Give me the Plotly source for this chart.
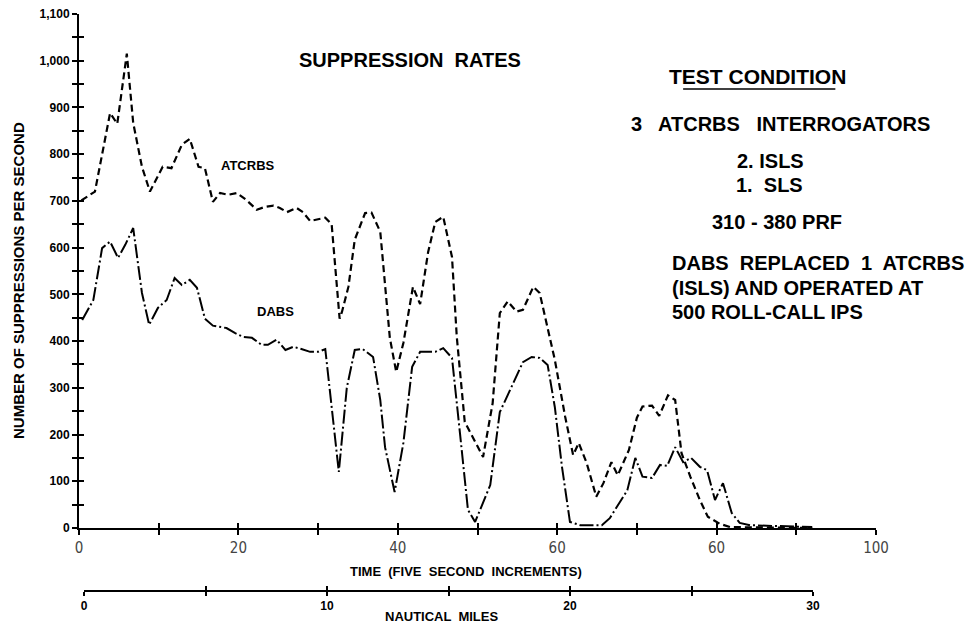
import plotly.graph_objects as go

# ---------------- data ----------------
atcrbs_t = [0.3, 2, 3.9, 4.8, 6, 6.8, 7.9, 8.9, 10.5, 11.6, 12.9, 13.9, 15, 15.8, 16.8, 17.7,
            18.7, 19.8, 21, 22.3, 23.3, 24.4, 25.2, 26.1, 27.3, 28.1, 29, 30.9, 31.7, 32.7, 33,
            33.8, 34.6, 35.9, 36.7, 37.8, 39, 39.8, 40.7, 41.9, 42.8, 43.8, 44.7, 45.7, 46.8,
            47.4, 48.4, 50.7, 51.9, 52.8, 53.8, 54.9, 55.7, 57, 57.8, 59.7, 61, 62, 62.7, 63.7,
            64.9, 65.8, 66.8, 67.6, 69, 70, 70.7, 71.9, 72.8, 73.9, 74.8, 75.6, 76.7, 77.9,
            78.9, 80.4, 81.7, 86, 92]
atcrbs_v = [701, 720, 888, 865, 1015, 867, 773, 720, 773, 770, 820, 833, 773, 770, 698, 717,
            713, 717, 702, 681, 687, 690, 685, 676, 685, 676, 657, 664, 650, 448, 463,
            516, 617, 674, 675, 634, 407, 334, 396, 516, 479, 590, 655, 666, 580,
            409, 227, 152, 267, 460, 485, 463, 467, 516, 503, 360, 238, 156, 182, 139,
            67, 96, 141, 113, 167, 236, 260, 262, 240, 284, 274, 160, 110, 60,
            24, 9, 2, 1, 0]

dabs_t = [0.4, 1.8, 2.9, 3.9, 4.9, 5.8, 6.8, 7.9, 8.8, 9.9, 11, 12, 12.9, 13.9, 14.8, 15.8,
          16.8, 18.5, 19.6, 20.6, 21.7, 22.9, 23.7, 24.8, 25.9, 26.9, 27.9, 29, 30, 30.9, 32.6,
          33.6, 34.6, 35.6, 36.9, 37.8, 38.4, 39.6, 40.7, 41.8, 42.8, 44.7, 45.7, 46.8, 47.8,
          48.8, 49.7, 50.7, 51.6, 52.8, 53.8, 54.9, 55.7, 56.8, 57.8, 58.8, 59.7, 60.6, 61.6,
          62.9, 65.6, 66.6, 67.6, 68.8, 69.8, 70.7, 71.9, 72.9, 73.8, 74.8, 75.8, 76.8, 77.9,
          78.8, 79.8, 80.8, 81.9, 82.9, 84.2, 88, 92]
dabs_v = [445, 488, 599, 613, 578, 606, 642, 503, 435, 471, 488, 535, 520, 531, 514, 448,
          433, 428, 417, 409, 407, 392, 392, 403, 381, 388, 383, 377, 377, 383, 120,
          300, 381, 383, 366, 274, 173, 77, 182, 345, 377, 377, 385, 364, 203,
          39, 13, 54, 92, 248, 285, 328, 355, 366, 364, 349, 259, 131, 13,
          6, 6, 21, 49, 81, 150, 110, 107, 135, 133, 173, 141, 150, 131,
          124, 60, 96, 32, 11, 6, 4, 2]

time_tickvals = [0, 10, 20, 30, 40, 50, 60, 70, 80, 90, 100]
time_ticktext = ["0", "", "20", "", "40", "", "60", "", "60", "", "100"]
y_tickvals = list(range(0, 1101, 50))
y_ticktext = [("{:,}".format(v) if v % 100 == 0 else "") for v in y_tickvals]
nm_tickvals = [0, 5, 10, 15, 20, 25, 30]
nm_ticktext = ["0", "", "10", "", "20", "", "30"]

FONT = "Liberation Sans, Arial, Helvetica, sans-serif"
THIN = "Liberation Sans Narrow, DejaVu Sans Condensed, DejaVu Sans Mono, monospace"

fig = go.Figure()
fig.add_trace(go.Scatter(x=atcrbs_t, y=atcrbs_v, mode="lines", name="ATCRBS",
                         line=dict(color="black", width=2.2, dash="7px,4px"),
                         showlegend=False, hoverinfo="skip"))
fig.add_trace(go.Scatter(x=dabs_t, y=dabs_v, mode="lines", name="DABS",
                         line=dict(color="black", width=2, dash="14px,3px,2px,3px"),
                         showlegend=False, hoverinfo="skip"))
# dummy traces to register the helper axes
fig.add_trace(go.Scatter(x=[None], y=[None], xaxis="x3", yaxis="y", showlegend=False, hoverinfo="skip"))
fig.add_trace(go.Scatter(x=[None], y=[None], xaxis="x", yaxis="y3", showlegend=False, hoverinfo="skip"))
fig.add_trace(go.Scatter(x=[None], y=[None], xaxis="x2", yaxis="y2", showlegend=False, hoverinfo="skip"))
fig.add_trace(go.Scatter(x=[None], y=[None], xaxis="x4", yaxis="y2", showlegend=False, hoverinfo="skip"))

main_dom = [0.1433, 1.0]
nm_dom = [0.00627, 0.921]

# the page body adds an 8px offset, so the figure is 8px smaller and margins shifted
fig.update_layout(
    template="none",
    width=970, height=616,
    margin=dict(l=71, r=102, t=6, b=10, autoexpand=False),
    paper_bgcolor="white", plot_bgcolor="white",
    font=dict(family=FONT, color="black"),
    xaxis=dict(domain=[0, 1], range=[0, 100], anchor="y", showgrid=False, zeroline=False,
               automargin=False, ticklabeloverflow="allow",
               showline=True, linecolor="black", linewidth=2,
               tickmode="array", tickvals=time_tickvals, ticktext=time_ticktext,
               ticks="outside", ticklen=5, tickwidth=2, tickcolor="black",
               tickfont=dict(family=THIN, size=15, color="#444")),
    xaxis3=dict(overlaying="x", anchor="y", range=[0, 100], showgrid=False, zeroline=False,
                automargin=False,
                showline=False, tickmode="array", tickvals=time_tickvals,
                ticks="inside", ticklen=5, tickwidth=2, tickcolor="black",
                showticklabels=False),
    yaxis=dict(domain=main_dom, range=[0, 1100], anchor="x", showgrid=False, zeroline=False,
               automargin=False, ticklabeloverflow="allow",
               showline=True, linecolor="black", linewidth=2,
               tickmode="array", tickvals=y_tickvals, ticktext=y_ticktext,
               ticks="outside", ticklen=5, tickwidth=2, tickcolor="black",
               tickfont=dict(family=FONT, size=12, color="black", weight="bold")),
    yaxis3=dict(domain=main_dom, overlaying="y", anchor="x", range=[0, 1100], showgrid=False,
                automargin=False,
                zeroline=False, showline=False, tickmode="array", tickvals=y_tickvals,
                ticks="inside", ticklen=5, tickwidth=2, tickcolor="black",
                showticklabels=False),
    xaxis2=dict(domain=nm_dom, range=[0, 30], anchor="y2", showgrid=False, zeroline=False,
                automargin=False, ticklabeloverflow="allow",
                showline=True, linecolor="black", linewidth=1.5,
                tickmode="array", tickvals=nm_tickvals, ticktext=nm_ticktext,
                ticks="outside", ticklen=4, tickwidth=2, tickcolor="black",
                tickfont=dict(family=FONT, size=12, color="black", weight="bold")),
    xaxis4=dict(domain=nm_dom, overlaying="x2", anchor="y2", range=[0, 30], showgrid=False,
                automargin=False,
                zeroline=False, showline=False, tickmode="array", tickvals=nm_tickvals,
                ticks="inside", ticklen=4, tickwidth=2, tickcolor="black",
                showticklabels=False),
    yaxis2=dict(domain=[0.04, 0.06], range=[0, 1], visible=False, anchor="x2",
                automargin=False),
)

ann = [
    dict(text="<b>SUPPRESSION  RATES</b>", x=41.5, y=1001, size=20),
    dict(text="<b>TEST CONDITION</b>", x=85.1, y=967, size=21),
    dict(text="<b>3   ATCRBS   INTERROGATORS</b>", x=88.0, y=864, size=20),
    dict(text="<b>2. ISLS</b>", x=86.8, y=785, size=20),
    dict(text="<b>1.  SLS</b>", x=86.6, y=734, size=20),
    dict(text="<b>310 - 380 PRF</b>", x=87.6, y=655, size=20),
    dict(text="<b>ATCRBS</b>", x=21.2, y=775, size=13),
    dict(text="<b>DABS</b>", x=24.6, y=463, size=13),
]
for a in ann:
    fig.add_annotation(text=a["text"], x=a["x"], y=a["y"], xref="x", yref="y",
                       showarrow=False, xanchor="center", yanchor="middle",
                       font=dict(family=FONT, size=a["size"], color="black"))

for txt, yv in [("<b>DABS  REPLACED  1  ATCRBS</b>", 567),
                ("<b>(ISLS) AND OPERATED AT</b>", 514),
                ("<b>500 ROLL-CALL IPS</b>", 463)]:
    fig.add_annotation(text=txt, x=74.15, y=yv, xref="x", yref="y", showarrow=False,
                       xanchor="left", yanchor="middle",
                       font=dict(family=FONT, size=20, color="black"))

fig.add_shape(type="line", xref="x", yref="y", x0=75.8, x1=94.9, y0=939.5, y1=939.5,
              line=dict(color="black", width=1.5))

# axis titles
fig.add_annotation(text="<b>NUMBER OF SUPPRESSIONS PER SECOND</b>", xref="paper", yref="paper",
                   x=(19 - 79) / 797, y=(614 - 281) / 600, textangle=-90, showarrow=False,
                   xanchor="center", yanchor="middle",
                   font=dict(family=FONT, size=15, color="black"))
fig.add_annotation(text="<b>TIME  (FIVE  SECOND  INCREMENTS)</b>", xref="paper", yref="paper",
                   x=(466 - 79) / 797, y=(614 - 571) / 600, showarrow=False,
                   xanchor="center", yanchor="middle",
                   font=dict(family=FONT, size=13, color="black"))
fig.add_annotation(text="<b>NAUTICAL  MILES</b>", xref="paper", yref="paper",
                   x=(441 - 79) / 797, y=(614 - 616) / 600, showarrow=False,
                   xanchor="center", yanchor="middle",
                   font=dict(family=FONT, size=13, color="black"))

fig.write_html("out.html")
